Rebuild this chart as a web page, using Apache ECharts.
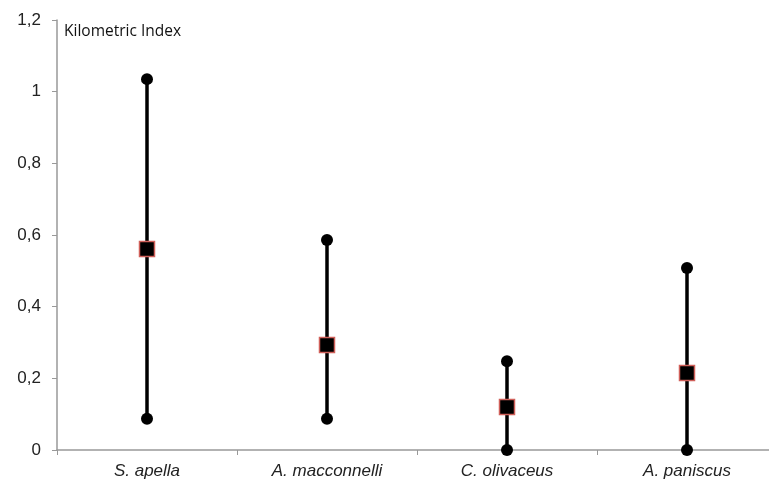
<!DOCTYPE html>
<html><head><meta charset="utf-8">
<script src="https://cdn.jsdelivr.net/npm/echarts@6/dist/echarts.min.js"></script>
<style>html,body{margin:0;padding:0;background:#fff}#c{width:769px;height:486px}</style>
</head><body><div id="c"></div>
<script>
const categories = ['S. apella', 'A. macconnelli', 'C. olivaceus', 'A. paniscus'];
const maxValues = [1.035, 0.586, 0.248, 0.508];
const meanValues = [0.561, 0.293, 0.12, 0.215];
const minValues = [0.087, 0.087, 0, 0];
const yTicks = [0, 0.2, 0.4, 0.6, 0.8, 1, 1.2];

const chart = echarts.init(document.getElementById('c'));
const rangeData = categories.map((c, i) => [i, minValues[i], maxValues[i]]);
chart.setOption({
  animation: false,
  grid: { left: 57, width: 720, top: 20, bottom: 36, outerBoundsMode: 'none', containLabel: false },
  xAxis: {
    type: 'category', data: categories,
    axisLine: { lineStyle: { color: '#999', width: 1.5 } },
    axisTick: { show: true, alignWithLabel: false, length: 5, lineStyle: { color: '#999' } },
    axisLabel: { fontFamily: 'Liberation Sans, Arial', fontStyle: 'italic', fontSize: 17, color: '#222', margin: 13 }
  },
  yAxis: {
    type: 'value', min: 0, max: 1.2, interval: 0.2,
    name: 'Kilometric Index', nameLocation: 'end', nameGap: 0,
    nameTextStyle: { fontFamily: 'Open Sans, Liberation Sans', fontSize: 15.5, color: '#111', align: 'left', verticalAlign: 'top', padding: [4, 0, 0, 7] },
    axisLine: { show: true, lineStyle: { color: '#999', width: 1.5 } },
    axisTick: { show: true, length: 5, lineStyle: { color: '#999' } },
    splitLine: { show: false },
    axisLabel: { fontFamily: 'Liberation Sans, Arial', fontSize: 17, color: '#222', margin: 16,
      formatter: v => String(Math.round(v * 10) / 10).replace('.', ',') }
  },
  series: [
    {
      type: 'custom', data: rangeData, clip: false, z: 2,
      encode: { x: 0, y: [1, 2] },
      renderItem: (params, api) => {
        const a = api.coord([api.value(0), api.value(1)]);
        const b = api.coord([api.value(0), api.value(2)]);
        return { type: 'line', shape: { x1: a[0], y1: a[1], x2: b[0], y2: b[1] },
          style: { stroke: '#000', lineWidth: 3.5 } };
      }
    },
    {
      type: 'scatter', clip: false, z: 3, symbol: 'circle', symbolSize: 12,
      itemStyle: { color: '#000', opacity: 1 },
      data: categories.map((c, i) => [i, maxValues[i]])
    },
    {
      type: 'scatter', clip: false, z: 3, symbol: 'circle', symbolSize: 12,
      itemStyle: { color: '#000', opacity: 1 },
      data: categories.map((c, i) => [i, minValues[i]])
    },
    {
      type: 'scatter', clip: false, z: 4, symbol: 'rect', symbolSize: 15,
      itemStyle: { color: '#000', borderColor: '#d0605a', borderWidth: 1.5, opacity: 1 },
      data: categories.map((c, i) => [i, meanValues[i]])
    }
  ]
});
</script></body></html>
